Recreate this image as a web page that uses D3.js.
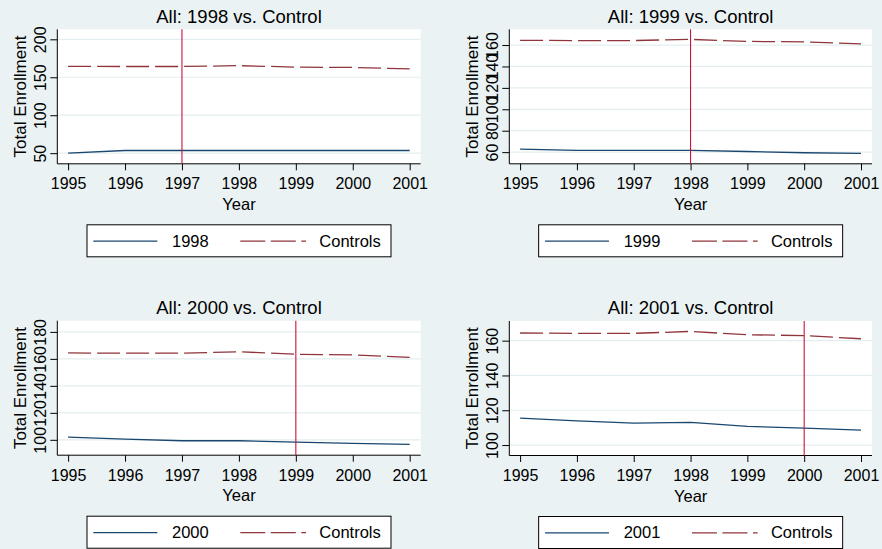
<!DOCTYPE html>
<html>
<head>
<meta charset="utf-8">
<script src="https://cdn.jsdelivr.net/npm/d3@7/dist/d3.min.js"></script>
<style>
body { margin: 0; background: #eaf2f3; }
text { font-family: "Liberation Sans", Arial, sans-serif; fill: #000; }
</style>
</head>
<body>
<div id="chart"></div>
<script>
// values
var years = [1995, 1996, 1997, 1998, 1999, 2000, 2001];
var controls = [164.4, 164.2, 164.2, 165.3, 163.4, 162.9, 161.1];
var cohort1998 = [50, 53.5, 53.5, 53.5, 53.5, 53.5, 53.5];
var cohort1999 = [62.8, 61.6, 61.6, 61.6, 60.6, 59.4, 58.8];
var cohort2000 = [102, 100.5, 99.3, 99.3, 98.3, 97.3, 96.6];
var cohort2001 = [115.5, 113.9, 112.6, 113, 110.7, 109.7, 108.6];
var cohortNames = ["1998", "1999", "2000", "2001"];
var cutYears = [1997, 1998, 1999, 2000];
var yTicks1998 = [50, 100, 150, 200];
var yTicks1999 = [60, 80, 100, 120, 140, 160];
var yTicks2000 = [100, 120, 140, 160, 180];
var yTicks2001 = [100, 120, 140, 160];

var w = 882, h = 549;
var navy = "#1a476f", maroon = "#90353b", cutColor = "#c8143c";

var panels = [
  {name: cohortNames[0], vals: cohort1998, ticks: yTicks1998, domain: [36, 213.2], cut: cutYears[0], left: 57.3, top: 29.3, width: 363.4},
  {name: cohortNames[1], vals: cohort1999, ticks: yTicks1999, domain: [49.1, 174.7], cut: cutYears[1], left: 509.3, top: 29.3, width: 362.7},
  {name: cohortNames[2], vals: cohort2000, ticks: yTicks2000, domain: [88.6, 188.3], cut: cutYears[2], left: 57.3, top: 320.7, width: 363.4},
  {name: cohortNames[3], vals: cohort2001, ticks: yTicks2001, domain: [94, 171.3], cut: cutYears[3], left: 509.3, top: 321, width: 362.7}
];
var plotH = 134.5;

var svg = d3.select("#chart")
  .append("svg")
  .attr("width", w)
  .attr("height", h)

svg.append("rect")
  .attr("width", w)
  .attr("height", h)
  .attr("fill", "#eaf2f3")

panels.forEach(function(p) {
  var bottom = p.top + plotH;
  var right = p.left + p.width;
  var cx = p.left + p.width / 2;

  var x = d3.scaleLinear().domain([1995, 2001]).range([p.left + 10.8, right - 11]);
  var y = d3.scaleLinear().domain(p.domain).range([bottom, p.top]);

  var g = svg.append("g");

  g.append("rect")
    .attr("x", p.left)
    .attr("y", p.top)
    .attr("width", p.width)
    .attr("height", plotH)
    .attr("fill", "#fff")

  // gridlines
  g.selectAll(".grid")
    .data(p.ticks)
    .enter()
    .append("line")
    .attr("x1", p.left)
    .attr("x2", right)
    .attr("y1", function(d) { return y(d); })
    .attr("y2", function(d) { return y(d); })
    .attr("stroke", "#e4eef0")
    .attr("stroke-width", 1.2)

  g.append("text")
    .attr("x", cx)
    .attr("y", p.top - 6.8)
    .attr("text-anchor", "middle")
    .attr("font-size", "18.5px")
    .text("All: " + p.name + " vs. Control")

  // y axis
  var yAxis = g.append("g")
    .attr("transform", "translate(" + p.left + ",0)")
    .call(d3.axisLeft(y).tickValues(p.ticks).tickSize(7).tickSizeOuter(0).tickFormat(d3.format("d")))
  yAxis.select(".domain").remove();
  yAxis.selectAll(".tick line").attr("stroke", "#000");
  yAxis.selectAll(".tick text")
    .attr("x", null)
    .attr("dy", null)
    .attr("transform", "translate(-11,0) rotate(-90)")
    .attr("text-anchor", "middle")
    .attr("font-size", "16px")
    .attr("font-family", "Liberation Sans, Arial, sans-serif")
  g.append("line")
    .attr("x1", p.left).attr("x2", p.left)
    .attr("y1", p.top).attr("y2", bottom)
    .attr("stroke", "#000")

  g.append("text")
    .attr("transform", "translate(" + (p.left - 31.5) + "," + (p.top + plotH / 2) + ") rotate(-90)")
    .attr("text-anchor", "middle")
    .attr("font-size", "17px")
    .text("Total Enrollment")

  // x axis
  var xAxis = g.append("g")
    .attr("transform", "translate(0," + bottom + ")")
    .call(d3.axisBottom(x).tickValues(years).tickSize(6.5).tickSizeOuter(0).tickFormat(d3.format("d")))
  xAxis.select(".domain").remove();
  xAxis.selectAll(".tick line").attr("stroke", "#000");
  xAxis.selectAll(".tick text")
    .attr("y", 25.5)
    .attr("dy", null)
    .attr("font-size", "16px")
    .attr("font-family", "Liberation Sans, Arial, sans-serif")
  g.append("line")
    .attr("x1", p.left).attr("x2", right)
    .attr("y1", bottom).attr("y2", bottom)
    .attr("stroke", "#000")

  g.append("text")
    .attr("x", cx)
    .attr("y", bottom + 46)
    .attr("text-anchor", "middle")
    .attr("font-size", "16.5px")
    .text("Year")

  var line = d3.line()
    .x(function(d, i) { return x(years[i]); })
    .y(function(d) { return y(d); })

  g.append("path")
    .datum(controls)
    .attr("d", line)
    .attr("fill", "none")
    .attr("stroke", maroon)
    .attr("stroke-width", 1.3)
    .attr("stroke-dasharray", "23,6")

  g.append("path")
    .datum(p.vals)
    .attr("d", line)
    .attr("fill", "none")
    .attr("stroke", navy)
    .attr("stroke-width", 1.3)

  g.append("line")
    .attr("x1", x(p.cut)).attr("x2", x(p.cut))
    .attr("y1", p.top).attr("y2", bottom)
    .attr("stroke", cutColor)
    .attr("stroke-width", 1.1)

  // legend
  var lx = cx - 152, ly = bottom + 61;
  var lg = g.append("g").attr("transform", "translate(" + lx + "," + ly + ")");
  lg.append("rect")
    .attr("width", 304)
    .attr("height", 32)
    .attr("fill", "#fff")
    .attr("stroke", "#000")
  lg.append("line")
    .attr("x1", 6.3).attr("x2", 70.3).attr("y1", 16.4).attr("y2", 16.4)
    .attr("stroke", navy).attr("stroke-width", 1.3)
  lg.append("text")
    .attr("x", 85).attr("y", 21.8)
    .attr("font-size", "16.5px")
    .text(p.name)
  lg.append("line")
    .attr("x1", 153.3).attr("x2", 219).attr("y1", 16.4).attr("y2", 16.4)
    .attr("stroke", maroon).attr("stroke-width", 1.3)
    .attr("stroke-dasharray", "25,5.5")
  lg.append("text")
    .attr("x", 232.3).attr("y", 21.8)
    .attr("font-size", "16.5px")
    .text("Controls")
});
</script>
</body>
</html>
